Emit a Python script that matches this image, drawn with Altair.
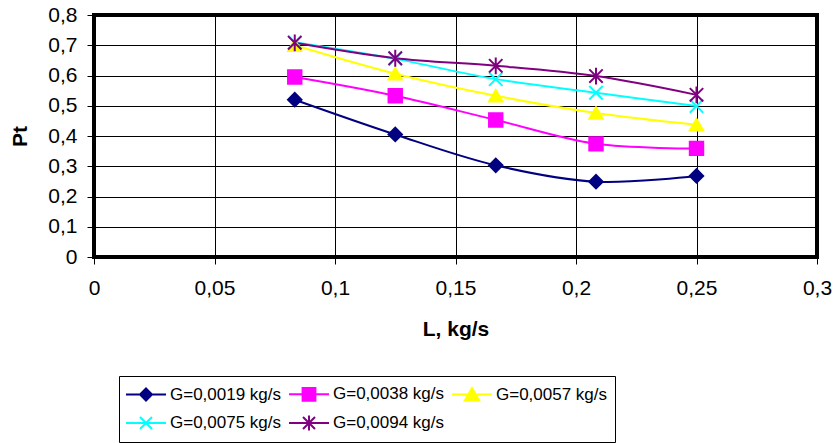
import altair as alt
import pandas as pd

# ---- data ----
L_values = [0.0833, 0.125, 0.1667, 0.2083, 0.25]
series_names = ["G=0,0019 kg/s", "G=0,0038 kg/s", "G=0,0057 kg/s",
                "G=0,0075 kg/s", "G=0,0094 kg/s"]
pt_0019 = [0.520, 0.405, 0.303, 0.249, 0.268]
pt_0038 = [0.595, 0.533, 0.453, 0.374, 0.359]
pt_0057 = [0.700, 0.606, 0.533, 0.476, 0.437]
pt_0075 = [0.710, 0.655, 0.588, 0.543, 0.499]
pt_0094 = [0.708, 0.657, 0.632, 0.598, 0.536]
x_ticks = [0, 0.05, 0.1, 0.15, 0.2, 0.25, 0.3]
y_ticks = [0, 0.1, 0.2, 0.3, 0.4, 0.5, 0.6, 0.7, 0.8]

colors = ["#000080", "#FF00FF", "#FFFF00", "#00FFFF", "#800080"]
X_PATH = "M-1,-1L1,1M-1,1L1,-1"
STAR_PATH = "M-1,-1L1,1M-1,1L1,-1M0,-1.25V1.25"
plot_shapes = ["diamond", "square", "triangle-up", X_PATH, STAR_PATH]
# legend symbols: unit = 10 px (symbol size 400); line spans 40 px
legend_shapes = [
    "M-2,0H2M0,-0.6L0.6,0L0,0.6L-0.6,0Z",
    "M-2,0H2M-0.64,-0.64H0.64V0.64H-0.64Z",
    "M-2,0H2M0,-0.66L0.72,0.6H-0.72Z",
    "M-2,0H2M-0.6,-0.6L0.6,0.6M-0.6,0.6L0.6,-0.6",
    "M-2,0H2M-0.6,-0.6L0.6,0.6M-0.6,0.6L0.6,-0.6M0,-0.74V0.74",
]

rows = []
for name, vals in zip(series_names, [pt_0019, pt_0038, pt_0057, pt_0075, pt_0094]):
    for x, y in zip(L_values, vals):
        rows.append({"series": name, "L": x, "Pt": y})
df = pd.DataFrame(rows)

FONT = "Liberation Sans"

x_enc = alt.X("L:Q", title="L, kg/s",
              scale=alt.Scale(domain=[0, 0.3], nice=False, zero=False),
              axis=alt.Axis(values=x_ticks, labelFlush=False,
                            labelExpr="replace(format(datum.value,'.2~f'),'.',',')",
                            tickSize=7, labelPadding=13, titlePadding=20))
y_enc = alt.Y("Pt:Q", title="Pt",
              scale=alt.Scale(domain=[0, 0.8], nice=False),
              axis=alt.Axis(values=y_ticks,
                            labelExpr="replace(format(datum.value,'.1~f'),'.',',')",
                            tickSize=7, labelPadding=10, titlePadding=17))

color_scale = alt.Scale(domain=series_names, range=colors)

lines = alt.Chart(df).mark_line(interpolate="catmull-rom", strokeWidth=2).encode(
    x=x_enc, y=y_enc,
    color=alt.Color("series:N", scale=color_scale, legend=None),
)

points = alt.Chart(df).mark_point(filled=True, strokeWidth=2, size=180, opacity=1).encode(
    x=x_enc, y=y_enc,
    color=alt.Color("series:N", scale=color_scale, legend=None),
    stroke=alt.Stroke("series:N", scale=color_scale, legend=None),
    shape=alt.Shape("series:N", scale=alt.Scale(domain=series_names, range=plot_shapes), legend=None),
)

leg = dict(orient="none", legendX=25, legendY=361, columns=3, direction="horizontal",
           title=None, strokeColor="black", padding=7,
           symbolSize=400, symbolStrokeWidth=2, symbolOpacity=1, symbolOffset=9,
           labelFont=FONT, labelFontSize=17, labelColor="black",
           labelOffset=13, columnPadding=3, rowPadding=6)

legend_layer = alt.Chart(df).transform_filter("false").mark_point(
    filled=True, strokeWidth=2, opacity=1).encode(
    x=x_enc, y=y_enc,
    color=alt.Color("series:N", scale=color_scale, legend=alt.Legend(**leg)),
    stroke=alt.Stroke("series:N", scale=color_scale, legend=alt.Legend(**leg)),
    shape=alt.Shape("series:N", scale=alt.Scale(domain=series_names, range=legend_shapes),
                    legend=alt.Legend(**leg)),
)

chart = alt.layer(lines, points, legend_layer).resolve_scale(
    color="independent", stroke="independent", shape="independent"
).properties(
    width=723, height=242,
    autosize=alt.AutoSizeParams(type="none"),
    padding={"left": 94, "top": 15, "right": 17, "bottom": 186},
    background="white",
).configure_view(
    stroke="black", strokeWidth=4
).configure_legend(
    strokeWidth=1
).configure_axis(
    domain=False, grid=True, gridColor="black", gridWidth=1, gridOpacity=1,
    tickColor="black", tickWidth=1,
    labelFont=FONT, labelFontSize=21, labelColor="black",
    titleFont=FONT, titleFontSize=21, titleFontWeight="bold", titleColor="black",
)

chart.save("out.html", embed_options={"renderer": "svg", "actions": False})
